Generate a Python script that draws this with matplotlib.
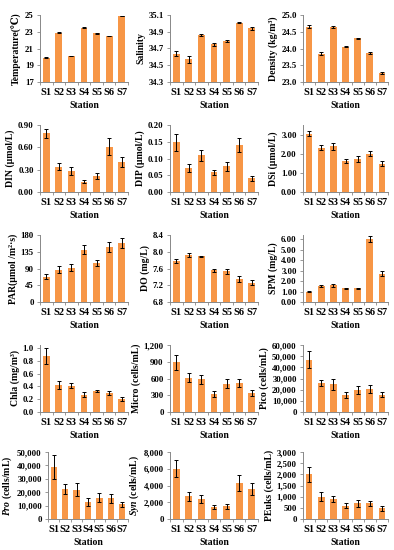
import matplotlib

matplotlib.use("Agg")
import matplotlib.pyplot as plt
from matplotlib.ticker import FuncFormatter

plt.rcParams["font.family"] = ["Liberation Serif", "DejaVu Serif"]
plt.rcParams["font.weight"] = "bold"
plt.rcParams["mathtext.fontset"] = "custom"
plt.rcParams["mathtext.rm"] = "Liberation Serif:bold"
plt.rcParams["mathtext.it"] = "Liberation Serif:italic:bold"

stations = ["S1", "S2", "S3", "S4", "S5", "S6", "S7"]

temp = [19.9, 22.9, 20.1, 23.5, 22.8, 22.5, 24.9]
temp_err = [0.05, 0.05, 0.05, 0.06, 0.03, 0.04, 0.04]
sal = [34.64, 34.57, 34.86, 34.75, 34.79, 35.01, 34.94]
sal_err = [0.03, 0.04, 0.015, 0.015, 0.012, 0.005, 0.015]
dens = [24.65, 23.85, 24.65, 24.05, 24.30, 23.87, 23.27]
dens_err = [0.05, 0.05, 0.03, 0.02, 0.02, 0.04, 0.04]
din = [0.79, 0.34, 0.28, 0.14, 0.21, 0.61, 0.40]
din_err = [0.06, 0.05, 0.05, 0.02, 0.04, 0.11, 0.07]
dip = [0.148, 0.071, 0.110, 0.059, 0.077, 0.139, 0.041]
dip_err = [0.025, 0.012, 0.016, 0.008, 0.013, 0.021, 0.007]
dsi = [3.05, 2.32, 2.40, 1.62, 1.73, 1.99, 1.48]
dsi_err = [0.15, 0.15, 0.18, 0.12, 0.15, 0.13, 0.13]
par = [68, 87, 92, 141, 105, 148, 158]
par_err = [7, 9, 9, 13, 9, 13, 14]
do = [7.78, 7.92, 7.89, 7.56, 7.53, 7.34, 7.26]
do_err = [0.04, 0.04, 0.02, 0.04, 0.06, 0.07, 0.06]
spm = [0.98, 1.52, 1.58, 1.30, 1.30, 6.05, 2.70]
spm_err = [0.07, 0.10, 0.12, 0.08, 0.08, 0.30, 0.25]
chla = [0.88, 0.42, 0.41, 0.27, 0.33, 0.30, 0.20]
chla_err = [0.13, 0.06, 0.04, 0.04, 0.02, 0.03, 0.03]
micro = [890, 615, 590, 325, 510, 520, 335]
micro_err = [130, 80, 80, 50, 80, 80, 55]
pico = [47000, 26000, 25000, 15000, 20000, 20500, 15500]
pico_err = [7500, 3000, 5000, 2500, 3500, 3500, 2500]
pro = [39000, 22500, 22000, 13000, 16000, 15500, 11000]
pro_err = [9000, 3500, 4500, 3000, 3500, 3500, 2000]
syn = [6000, 2700, 2400, 1400, 1500, 4300, 3600]
syn_err = [1000, 500, 500, 250, 300, 900, 700]
peuks = [2000, 1000, 900, 600, 700, 700, 480]
peuks_err = [350, 200, 150, 100, 150, 120, 100]

# (valores, error, etiqueta, ymin, ymax, ticks, formato)
panels = [
    (temp, temp_err, "Temperature(\u2103)", 17, 25, [17, 19, 21, 23, 25], "{:.0f}"),
    (sal, sal_err, "Salinity", 34.3, 35.1, [34.3, 34.5, 34.7, 34.9, 35.1], "{:.1f}"),
    (dens, dens_err, "Density (kg/m\u00b3)", 23.0, 25.0, [23.0, 23.5, 24.0, 24.5, 25.0], "{:.1f}"),
    (din, din_err, "DIN (\u03bcmol/L)", 0, 0.9, [0, 0.3, 0.6, 0.9], "{:.2f}"),
    (dip, dip_err, "DIP (\u03bcmol/L)", 0, 0.2, [0, 0.05, 0.10, 0.15, 0.20], "{:.2f}"),
    (dsi, dsi_err, "DSi (\u03bcmol/L)", 0, 3.5, [0, 1, 2, 3], "{:.2f}"),
    (par, par_err, "PAR(\u03bcmol /m\u00b2\u00b7s)", 0, 180, [0, 45, 90, 135, 180], "{:.0f}"),
    (do, do_err, "DO (mg/L)", 6.8, 8.4, [6.8, 7.2, 7.6, 8.0, 8.4], "{:.1f}"),
    (spm, spm_err, "SPM (mg/L)", 0, 6.4, [0, 1, 2, 3, 4, 5, 6], "{:.2f}"),
    (chla, chla_err, "Chla (mg/m\u00b3)", 0, 1.05, [0, 0.2, 0.4, 0.6, 0.8, 1.0], "{:.1f}"),
    (micro, micro_err, "Micro (cells/mL)", 0, 1200, [0, 300, 600, 900, 1200], "{:,.0f}"),
    (pico, pico_err, "Pico (cells/mL)", 0, 60000, list(range(0, 60001, 10000)), "{:,.0f}"),
    (pro, pro_err, r"$\mathit{Pro}$ (cells/mL)", 0, 50000, list(range(0, 50001, 10000)), "{:,.0f}"),
    (syn, syn_err, r"$\mathit{Syn}$ (cells/mL)", 0, 8000, [0, 2000, 4000, 6000, 8000], "{:,.0f}"),
    (peuks, peuks_err, "PEuks (cells/mL)", 0, 3000, list(range(0, 3001, 500)), "{:,.0f}"),
]

W, H = 394, 550
col_left = [40, 170, 303]
col_right = [128, 258, 388]
row_top = [15, 125, 235, 345, 452]
ax_h = 67

fig = plt.figure(figsize=(W / 100, H / 100), dpi=100)
axis_color = "#888888"

for i, (vals, errs, label, ymin, ymax, ticks, fmt) in enumerate(panels):
    r, c = divmod(i, 3)
    left_px = col_left[c]
    if i == 12:
        left_px = 48
    left = left_px / W
    bottom = 1 - (row_top[r] + ax_h) / H
    ax = fig.add_axes([left, bottom, (col_right[c] - left_px) / W, ax_h / H])
    x = list(range(len(stations)))
    ax.bar(x, [v - ymin for v in vals], bottom=ymin, width=0.55, color="#F79646",
           yerr=errs, error_kw=dict(ecolor="black", elinewidth=0.7, capsize=1.6, capthick=0.7))
    ax.set_ylim(ymin, ymax)
    ax.set_xlim(-0.5, 6.5)
    ax.set_yticks(ticks)
    ax.yaxis.set_major_formatter(FuncFormatter(lambda v, p, f=fmt: f.format(v)))
    ax.set_xticks(x)
    ax.set_xticklabels(stations)
    ax.set_xticks([k + 0.5 for k in range(-1, 7)], minor=True)
    ax.tick_params(axis="x", which="major", length=0, labelsize=7.5, pad=4)
    ax.tick_params(axis="x", which="minor", length=2.5, color=axis_color, width=0.6)
    ax.tick_params(axis="y", length=2.5, color=axis_color, width=0.6, labelsize=6.3, pad=2)
    for s in ("top", "right"):
        ax.spines[s].set_visible(False)
    for s in ("left", "bottom"):
        ax.spines[s].set_color(axis_color)
        ax.spines[s].set_linewidth(0.7)
    ax.set_ylabel(label, fontsize=7, fontweight="bold", labelpad=2)
    ax.set_xlabel("Station", fontsize=7, fontweight="bold", labelpad=3)

fig.savefig("out.png", dpi=100)
